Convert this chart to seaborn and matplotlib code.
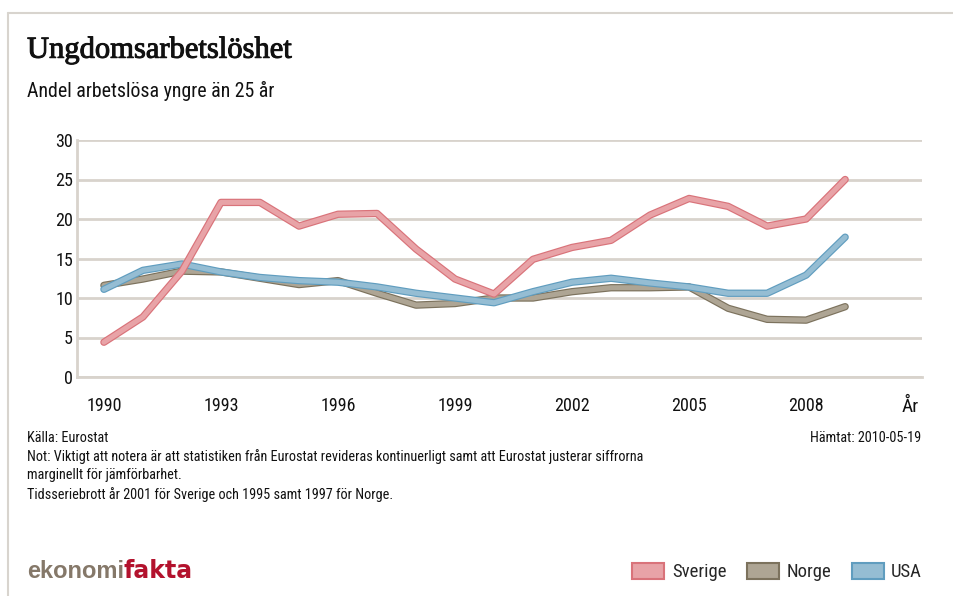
import numpy as np
import pandas as pd
import matplotlib
matplotlib.use('Agg')
import matplotlib.pyplot as plt
import matplotlib.patheffects as pe
from matplotlib.patches import Patch
from matplotlib.lines import Line2D
import seaborn as sns

# data
years = list(range(1990, 2010))
sverige = [4.4, 7.6, 13.4, 22.1, 22.1, 19.1, 20.6, 20.7, 16.2, 12.4,
           10.5, 14.9, 16.4, 17.3, 20.5, 22.6, 21.6, 19.1, 20.0, 25.0]
norge = [11.6, 12.4, 13.4, 13.3, 12.5, 11.7, 12.2, 10.6, 9.1, 9.3,
         10.0, 10.0, 10.8, 11.3, 11.3, 11.4, 8.7, 7.3, 7.2, 8.9]
usa = [11.1, 13.5, 14.3, 13.3, 12.6, 12.2, 12.0, 11.4, 10.6, 10.0,
       9.4, 10.8, 12.0, 12.5, 11.9, 11.4, 10.6, 10.6, 12.9, 17.7]
countries = ['Sverige', 'Norge', 'USA']
xticks = [1990, 1993, 1996, 1999, 2002, 2005, 2008]
yticks = [0, 5, 10, 15, 20, 25, 30]

fill = {'Sverige': '#e8a3a7', 'Norge': '#aea594', 'USA': '#95bdd3'}
edge = {'Sverige': '#d9737a', 'Norge': '#7c725d', 'USA': '#609dbf'}

df = pd.DataFrame({
    'År': years * 3,
    'Andel': sverige + norge + usa,
    'Land': ['Sverige'] * 20 + ['Norge'] * 20 + ['USA'] * 20,
})

sns.set_style('white')
plt.rcParams['font.family'] = ['Roboto Condensed', 'Liberation Sans', 'DejaVu Sans']

W, H = 954, 596
fig = plt.figure(figsize=(W / 100, H / 100), dpi=100)
ax = fig.add_axes([77 / W, 1 - 377 / H, (922 - 77) / W, (377 - 140) / H])

sns.lineplot(data=df, x='År', y='Andel', hue='Land', hue_order=countries,
             palette=fill, linewidth=3.6, legend=False, ax=ax)
zo = {'Sverige': 5, 'Norge': 3, 'USA': 4}
for line, c in zip(ax.lines, countries):
    line.set_path_effects([pe.Stroke(linewidth=5.3, foreground=edge[c]), pe.Normal()])
    line.set_zorder(zo[c])
    line.set_solid_capstyle('round')

gridc = '#d8d3cc'
ax.set_xlim(1989.31, 2010.97)
ax.set_ylim(0, 30)
ax.set_yticks(yticks)
ax.set_xticks(xticks)
ax.yaxis.grid(True, color=gridc, linewidth=2)
ax.xaxis.grid(False)
ax.set_axisbelow(True)
for s in ['top', 'right']:
    ax.spines[s].set_visible(False)
for s in ['left', 'bottom']:
    ax.spines[s].set_color(gridc)
    ax.spines[s].set_linewidth(2)
ax.tick_params(axis='y', length=0, pad=3, labelsize=13, colors='#111111')
ax.tick_params(axis='x', direction='inout', length=9, width=1, color=gridc,
               pad=10, labelsize=13, labelcolor='#111111')
ax.set_xlabel('')
ax.set_ylabel('')

fig.text(910 / W, 1 - 407 / H, 'År', fontsize=14, ha='center', va='center', color='#111111')

fig.text(27 / W, 1 - 50 / H, 'Ungdomsarbetslöshet', family=['Liberation Serif', 'DejaVu Serif'],
         fontsize=22, ha='left', va='center', color='#111111',
         path_effects=[pe.withStroke(linewidth=0.7, foreground='#111111')])
fig.text(27 / W, 1 - 91 / H, 'Andel arbetslösa yngre än 25 år', fontsize=14.3,
         ha='left', va='center', color='#111111')

notes = ['Källa: Eurostat',
         'Not: Viktigt att notera är att statistiken från Eurostat revideras kontinuerligt samt att Eurostat justerar siffrorna',
         'marginellt för jämförbarhet.',
         'Tidsseriebrott år 2001 för Sverige och 1995 samt 1997 för Norge.']
for i, t in enumerate(notes):
    fig.text(27 / W, 1 - (438 + i * 18.7) / H, t, fontsize=10.3, ha='left', va='center', color='#111111')
fig.text(921 / W, 1 - 438 / H, 'Hämtat: 2010-05-19', fontsize=10.3, ha='right', va='center', color='#111111')

# logo
fig.text(27 / W, 1 - 571 / H, 'ekonomi', family=['Liberation Sans', 'DejaVu Sans'], fontsize=17,
         weight='bold', color='#857869', ha='left', va='center')
fig.text(124 / W, 1 - 571 / H, 'fakta', family=['DejaVu Sans'], fontsize=17,
         weight='bold', color='#b3122d', ha='left', va='center')

handles = [Patch(facecolor=fill[c], edgecolor=edge[c], linewidth=1.5, label=c) for c in countries]
fig.legend(handles=handles, loc='center right', bbox_to_anchor=(922 / W, 1 - 572 / H), ncol=3,
           frameon=False, fontsize=13.5, handlelength=1.7, handleheight=0.95,
           handletextpad=0.4, columnspacing=1.1, borderpad=0, borderaxespad=0)

# card frame
fig.add_artist(Line2D([8 / W, 1], [1 - 13 / H, 1 - 13 / H], color='#d8d4ce', linewidth=1.5))
fig.add_artist(Line2D([8 / W, 8 / W], [0, 1 - 13 / H], color='#d8d4ce', linewidth=1.5))

fig.savefig('out.png', dpi=100, facecolor='white')
